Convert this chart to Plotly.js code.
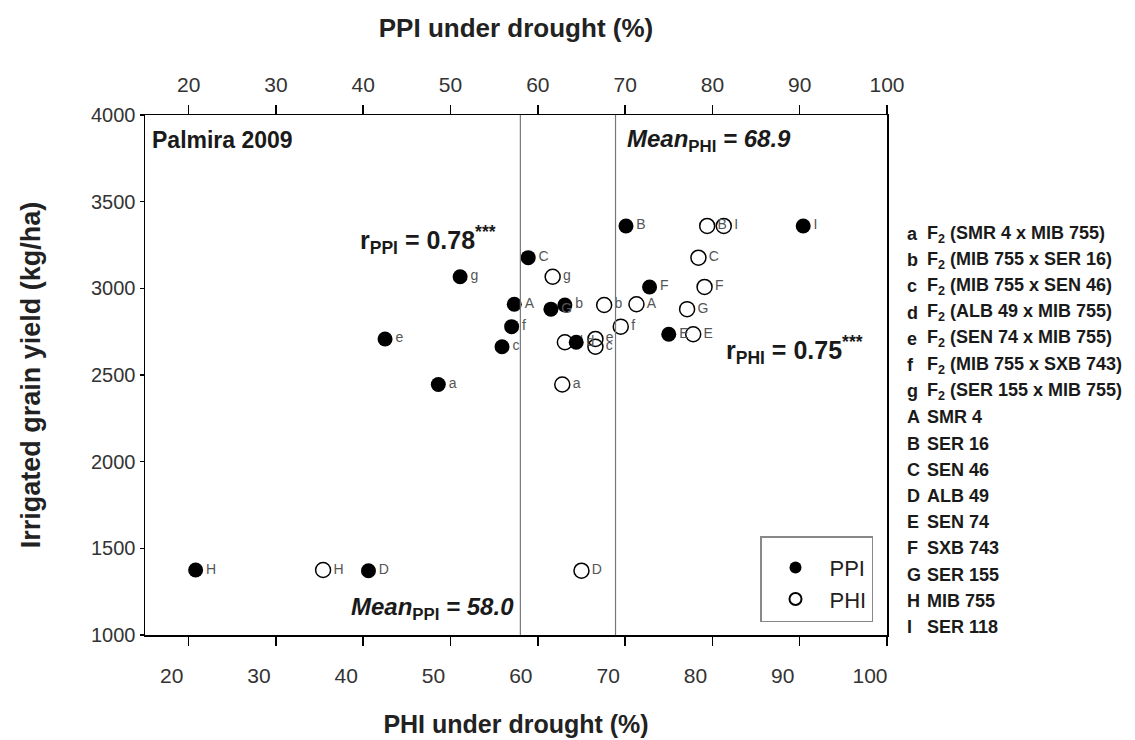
<!DOCTYPE html>
<html>
<head>
<meta charset="utf-8">
<script src="https://cdn.plot.ly/plotly-3.0.1.min.js"></script>
<style>html,body{margin:0;padding:0;background:#fff;}#chart{width:1135px;height:740px;}</style>
</head>
<body>
<div id="chart"></div>
<script>
// Genotype codes (point labels)
const codes = ['a','b','c','d','e','f','g','A','B','C','D','E','F','G','H','I'];
// Irrigated grain yield (kg/ha)
const yieldIrr = [2445, 2904, 2663, 2689, 2708, 2779, 3067, 2908, 3360, 3177, 1371, 2735, 3008, 2880, 1375, 3360];
// PPI under drought (%)
const ppi = [48.6, 63.1, 55.9, 64.4, 42.5, 57.0, 51.1, 57.3, 70.1, 58.9, 40.6, 75.0, 72.8, 61.5, 20.8, 90.4];
// PHI under drought (%)
const phi = [62.8, 67.6, 66.6, 63.1, 66.6, 69.5, 61.7, 71.3, 79.4, 78.4, 65.0, 77.8, 79.1, 77.1, 35.4, 81.3];
// Means
const meanPPI = 58.0;
const meanPHI = 68.9;
// Key on the right
const keyCodes = ['a','b','c','d','e','f','g','A','B','C','D','E','F','G','H','I'];
const keyNames = ['F<sub>2</sub> (SMR 4 x MIB 755)','F<sub>2</sub> (MIB 755 x SER 16)','F<sub>2</sub> (MIB 755 x SEN 46)',
  'F<sub>2</sub> (ALB 49 x MIB 755)','F<sub>2</sub> (SEN 74 x MIB 755)','F<sub>2</sub> (MIB 755 x SXB 743)',
  'F<sub>2</sub> (SER 155 x MIB 755)','SMR 4','SER 16','SEN 46','ALB 49','SEN 74','SXB 743','SER 155','MIB 755','SER 118'];
const xTicks = [20,30,40,50,60,70,80,90,100];

const FONT = 'Arial, "Liberation Sans", sans-serif';

const tracePHI = {
  x: phi, y: yieldIrr, text: codes, name: 'PHI', type: 'scatter', mode: 'markers+text',
  xaxis: 'x', yaxis: 'y', legendrank: 2,
  marker: {symbol: 'circle-open', size: 15, color: '#000', line: {width: 1.5, color: '#000'}},
  textposition: 'middle right', textfont: {family: FONT, size: 14, color: '#555'},
  cliponaxis: false
};
const tracePPI = {
  x: ppi, y: yieldIrr, text: codes, name: 'PPI', type: 'scatter', mode: 'markers+text',
  xaxis: 'x2', yaxis: 'y', legendrank: 1,
  marker: {symbol: 'circle', size: 15, color: '#000'},
  textposition: 'middle right', textfont: {family: FONT, size: 14, color: '#555'},
  cliponaxis: false
};

const L = 145, R = 248, T = 115, B = 105, W = 1135, H = 740;
const pw = W - L - R, ph = H - T - B;
const px2x = p => (p - L) / pw;
const py2y = p => (H - B - p) / ph;

const annotations = [
  {text: '<b>Palmira 2009</b>', x: px2x(150), y: py2y(140), xanchor: 'left', yanchor: 'middle', font: {size: 23}},
  {text: '<b><i>Mean</i><sub>PHI</sub><i> = 68.9</i></b>', x: px2x(625), y: py2y(140), xanchor: 'left', yanchor: 'middle', font: {size: 24}},
  {text: '<b><i>Mean</i><sub>PPI</sub><i> = 58.0</i></b>', x: px2x(349), y: py2y(608), xanchor: 'left', yanchor: 'middle', font: {size: 24}},
  {text: '<b>r<sub>PPI</sub> = 0.78<sup>***</sup></b>', x: px2x(358), y: py2y(240), xanchor: 'left', yanchor: 'middle', font: {size: 25}},
  {text: '<b>r<sub>PHI</sub> = 0.75<sup>***</sup></b>', x: px2x(724), y: py2y(350), xanchor: 'left', yanchor: 'middle', font: {size: 25}}
];
keyCodes.forEach((c, i) => {
  const py = 234 + i * 26.2;
  annotations.push({text: '<b>' + c + '</b>', x: px2x(905), y: py2y(py), xanchor: 'left', yanchor: 'middle', font: {size: 18}});
  annotations.push({text: '<b>' + keyNames[i] + '</b>', x: px2x(925), y: py2y(py), xanchor: 'left', yanchor: 'middle', font: {size: 18}});
});
annotations.forEach(a => { a.xref = 'paper'; a.yref = 'paper'; a.showarrow = false; a.font.family = FONT; a.font.color = '#1a1a1a'; });

const shapes = [meanPPI, meanPHI].map(m => ({
  type: 'line', xref: 'x', yref: 'paper', x0: m, x1: m, y0: 0, y1: 1,
  line: {color: '#777', width: 1.2}
}));

const axisCommon = {
  range: [15, 100], tickvals: xTicks, ticks: 'outside', ticklen: 9, tickwidth: 1.5, tickcolor: '#000',
  showline: true, linecolor: '#000', linewidth: 1.5, showgrid: false, zeroline: false,
  tickfont: {family: FONT, size: 21, color: '#333'}
};

const layout = {
  width: W, height: H,
  margin: {l: L, r: R, t: T, b: B},
  paper_bgcolor: '#fff', plot_bgcolor: '#fff',
  font: {family: FONT, color: '#222'},
  showlegend: true,
  legend: {x: px2x(760), y: py2y(536), xanchor: 'left', yanchor: 'top', bordercolor: '#888', borderwidth: 1.5,
           bgcolor: '#fff', itemwidth: 58, itemsizing: 'constant', font: {family: FONT, size: 22, color: '#222'},
           title: {text: ' ', font: {size: 7}}},
  xaxis: Object.assign({}, axisCommon, {
    side: 'bottom', ticklabelshift: -17, ticklabelstandoff: 12,
    title: {text: '<b>PHI under drought (%)</b>', font: {family: FONT, size: 25, color: '#222'}, standoff: 30}
  }),
  xaxis2: Object.assign({}, axisCommon, {
    overlaying: 'x', side: 'top', ticklabelstandoff: 4,
    title: {text: '<b>PPI under drought (%)</b>', font: {family: FONT, size: 26, color: '#222'}, standoff: 28}
  }),
  yaxis: {
    range: [1000, 4000], dtick: 500, tick0: 1000, ticks: 'outside', ticklen: 4, tickwidth: 1.5, tickcolor: '#000',
    showline: true, mirror: true, linecolor: '#000', linewidth: 1.5, showgrid: false, zeroline: false,
    tickfont: {family: FONT, size: 20, color: '#333'},
    title: {text: '<b>Irrigated grain yield (kg/ha)</b>', font: {family: FONT, size: 27, color: '#222'}, standoff: 42}
  },
  shapes: shapes,
  annotations: annotations
};

Plotly.newPlot('chart', [tracePHI, tracePPI], layout, {displayModeBar: false, staticPlot: true});
</script>
</body>
</html>
